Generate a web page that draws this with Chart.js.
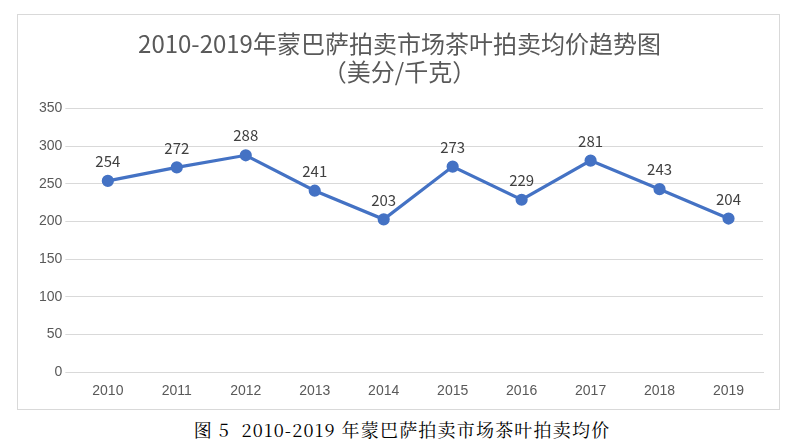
<!DOCTYPE html>
<html><head><meta charset="utf-8">
<script src="https://cdn.jsdelivr.net/npm/chart.js@4/dist/chart.umd.min.js"></script>
<style>
body{margin:0;background:#fff;width:804px;height:445px;overflow:hidden;font-family:"Noto Sans CJK SC";}
#box{position:absolute;left:17px;top:14px;width:763px;height:396px;border:1px solid #d9d9d9;box-sizing:border-box;}
#cap{position:absolute;left:0;top:416px;width:804px;text-align:center;font-size:18px;letter-spacing:1.2px;color:#000;font-family:"Noto Serif CJK SC","DejaVu Serif",serif;}
</style></head><body>
<div id="box"><canvas id="c"></canvas></div>
<div id="cap">图 5&nbsp;&nbsp;2010-2019 年蒙巴萨拍卖市场茶叶拍卖均价</div>
<script>
const categories=["2010","2011","2012","2013","2014","2015","2016","2017","2018","2019"];
const prices=[254,272,288,241,203,273,229,281,243,204];
const titleLines=["2010-2019年蒙巴萨拍卖市场茶叶拍卖均价趋势图","（美分/千克）"];
const labelPlugin={id:"lbl",afterDatasetsDraw(ch){const ctx=ch.ctx;const m=ch.getDatasetMeta(0);ctx.save();ctx.font="15px 'Noto Sans CJK SC'";ctx.fillStyle="#404040";ctx.textAlign="center";ctx.textBaseline="bottom";
m.data.forEach((p,i)=>ctx.fillText(prices[i],p.x,p.y-12));ctx.restore();}};
new Chart(document.getElementById("c"),{type:"line",
data:{labels:categories,datasets:[{data:prices,borderColor:"#4472C4",backgroundColor:"#4472C4",borderWidth:3.2,pointRadius:4.5,pointHoverRadius:4.5,tension:0}]},
options:{responsive:true,maintainAspectRatio:false,animation:false,
layout:{padding:{left:18,right:16,top:0,bottom:6}},
plugins:{legend:{display:false},tooltip:{enabled:false},
title:{display:true,text:titleLines,color:"#595959",font:{size:24,family:"'Noto Sans CJK SC'",weight:"normal"},padding:{top:14,bottom:22},lineHeight:1.45}},
scales:{x:{offset:true,grid:{display:false},border:{color:"#d9d9d9"},ticks:{color:"#595959",font:{size:14}}},
y:{min:0,max:350,ticks:{stepSize:50,color:"#595959",font:{size:14}},grid:{color:"#d9d9d9"},border:{display:false}}}},
plugins:[labelPlugin]});
</script></body></html>
